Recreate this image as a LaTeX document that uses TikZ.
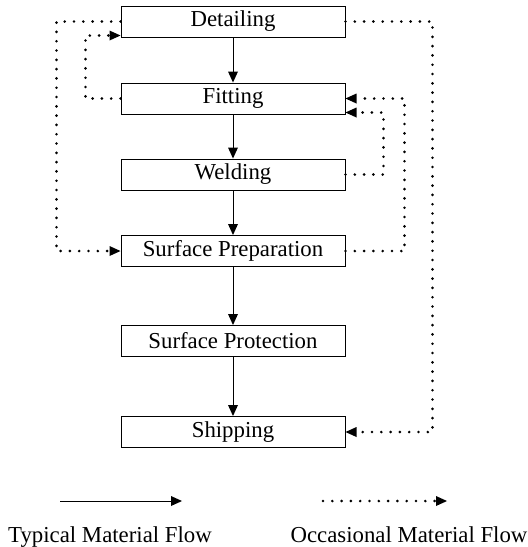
\documentclass[tikz,border=0pt]{standalone}
\usepackage{fontspec}
\setmainfont{Liberation Serif}
\usepackage{tikz}
\usetikzlibrary{arrows.meta}
\tikzset{
  stage/.style={draw, line width=0.5pt, minimum width=112pt, minimum height=15.5pt,
    inner sep=0pt, font=\fontsize{11.4pt}{13pt}\selectfont},
  tip/.style={-{Triangle[length=5.5pt,width=5pt,line width=0pt]}},
  typical/.style={tip, line width=0.5pt},
  occasional/.style={tip, line width=1.45pt, line cap=round, dash pattern=on 0pt off 4.65pt}
}

\begin{document}
\begin{tikzpicture}[x=0.5pt, y=-0.5pt]

    \useasboundingbox (0,0) rectangle (528,547);

    \node[stage] (det) at (233, 21.5) {Detailing};
    \node[stage] (fit) at (233, 98.5) {Fitting};
    \node[stage] (weld) at (233, 174.5) {Welding};
    \node[stage] (prep) at (233, 251) {Surface Preparation};
    \node[stage] (prot) at (233, 341) {Surface Protection};
    \node[stage] (ship) at (233, 432) {Shipping};

    \draw[typical] (det) -- (fit);
    \draw[typical] (fit) -- (weld);
    \draw[typical] (weld) -- (prep);
    \draw[typical] (prep) -- (prot);
    \draw[typical] (prot) -- (ship);

    % left side loops
    \draw[occasional] (det.west) -- ++(-64,0) |- (prep.west);
    \draw[occasional] (fit.west) -- ++(-35,0) |- ([yshift=1pt]det.south west);

    % right side loops
    \draw[occasional] (det.east) -- ++(87,0) |- (ship.east);
    \draw[occasional] (prep.east) -- ++(59,0) |- (fit.east);
    \draw[occasional] (weld.east) -- ++(38,0) |- ([yshift=1pt]fit.south east);

    % legend
    \coordinate (typA) at (60, 501);
    \coordinate (typB) at (182, 501);
    \coordinate (occA) at (323, 501);
    \coordinate (occB) at (447, 501);
    \draw[typical] (typA) -- (typB);
    \draw[occasional] (occA) -- (occB);
    \node[anchor=base, font=\fontsize{11.4pt}{13pt}\selectfont] (typtext) at (110, 542) {Typical Material Flow};
    \node[anchor=base, font=\fontsize{11.4pt}{13pt}\selectfont] (occtext) at (409, 542) {Occasional Material Flow};
  \end{tikzpicture}
\end{document}
